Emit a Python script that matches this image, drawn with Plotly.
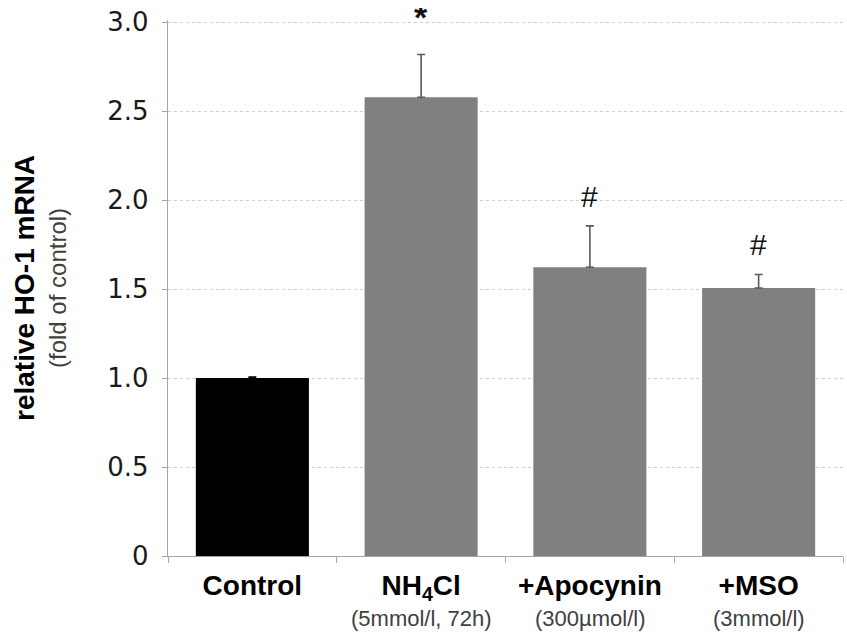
import plotly.graph_objects as go

categories = ["Control", "NH4Cl", "+Apocynin", "+MSO"]
main_labels = ["Control", "NH<sub>4</sub>Cl", "+Apocynin", "+MSO"]
sub_labels = ["", "(5mmol/l, 72h)", "(300µmol/l)", "(3mmol/l)"]
values = [1.0, 2.578, 1.623, 1.506]
errors = [0.006, 0.24, 0.232, 0.076]
marks = ["", "*", "#", "#"]
bar_colors = ["#000000", "#808080", "#808080", "#808080"]
err_colors = ["#000000", "#595959", "#595959", "#595959"]
y_ticks = [0, 0.5, 1.0, 1.5, 2.0, 2.5, 3.0]
y_ticktext = ["0", "0.5", "1.0", "1.5", "2.0", "2.5", "3.0"]

ticktext = ["<b>" + m + "</b>" for m in main_labels]

W, H = 847, 636
ML, MR, MT, MB = 168, 4, 20, 80
PW = W - ML - MR

fig = go.Figure()
for i, c in enumerate(categories):
    fig.add_trace(go.Bar(
        x=[c], y=[values[i]],
        marker=dict(color=bar_colors[i], line=dict(width=0)),
        width=0.67,
        error_y=dict(type="data", array=[errors[i]], symmetric=False, arrayminus=[0],
                     color=err_colors[i], thickness=1.6, width=4),
        showlegend=False,
    ))

for i, c in enumerate(categories):
    if marks[i] == "*":
        fig.add_annotation(
            x=c, y=values[i] + errors[i], xref="x", yref="y",
            text="<b>*</b>", showarrow=False, yanchor="middle", yshift=38,
            height=18, valign="middle",
            font=dict(family="Liberation Sans, Arial", size=34, color="#111111"),
        )
    elif marks[i]:
        fig.add_annotation(
            x=c, y=values[i] + errors[i], xref="x", yref="y",
            text=marks[i], showarrow=False, yanchor="bottom", yshift=11,
            font=dict(family="Liberation Sans, Arial", size=30, color="#111111"),
        )

for i, c in enumerate(categories):
    if sub_labels[i]:
        fig.add_annotation(
            x=c, y=0, xref="x", yref="paper",
            text=sub_labels[i], showarrow=False, yanchor="middle", yshift=-62,
            font=dict(family="Liberation Sans, Arial", size=22, color="#404040"),
        )

fig.add_annotation(
    x=(24 - 168) / PW, y=0.5, xref="paper", yref="paper", textangle=-90,
    text="<b>relative HO-1 mRNA</b>", showarrow=False,
    xanchor="center", yanchor="middle",
    font=dict(family="Liberation Sans, Arial", size=28, color="#000000"),
)
fig.add_annotation(
    x=(57 - 168) / PW, y=0.5, xref="paper", yref="paper", textangle=-90,
    text="(fold of control)", showarrow=False,
    xanchor="center", yanchor="middle",
    font=dict(family="Liberation Sans, Arial", size=24, color="#404040"),
)

fig.update_layout(
    width=W, height=H,
    margin=dict(l=ML, r=MR, t=MT, b=MB, autoexpand=False),
    paper_bgcolor="white", plot_bgcolor="white",
    bargap=0.33,
    xaxis=dict(
        type="category", categoryorder="array", categoryarray=categories,
        tickmode="array", tickvals=categories, ticktext=ticktext,
        tickson="boundaries", ticks="outside", ticklen=6, tickcolor="#a6a6a6",
        showline=True, linecolor="#a6a6a6", linewidth=1.3,
        showgrid=False, automargin=False,
        tickfont=dict(family="Liberation Sans, Arial", size=28, color="#000000"),
        ticklabelstandoff=4,
    ),
    yaxis=dict(
        range=[0, 3.012], tickmode="array", tickvals=y_ticks, ticktext=y_ticktext,
        ticks="outside", ticklen=5, tickcolor="#a6a6a6",
        showline=True, linecolor="#a6a6a6", linewidth=1.3,
        showgrid=True, gridcolor="#cfcfcf", griddash="dot", gridwidth=1,
        zeroline=False, automargin=False, ticklabeloverflow="allow",
        tickfont=dict(family="DejaVu Sans, Verdana", size=26, color="#1a1a1a"),
        ticklabelstandoff=8,
    ),
)

fig.write_html("out.html", config={"displayModeBar": False},
               post_script="document.body.style.margin='0';")
